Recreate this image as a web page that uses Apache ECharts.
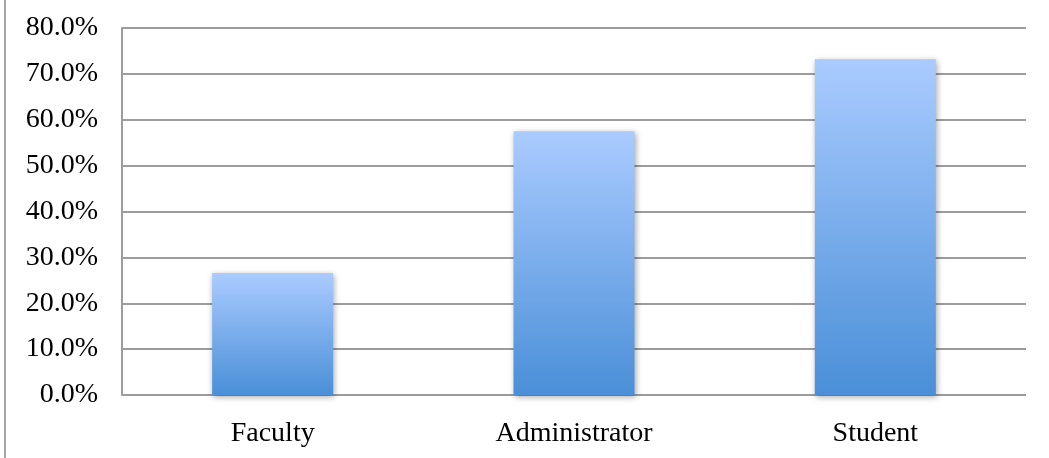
<!DOCTYPE html>
<html>
<head>
<meta charset="utf-8">
<script src="https://cdn.jsdelivr.net/npm/echarts@6/dist/echarts.min.js"></script>
<style>
  html, body { margin: 0; padding: 0; background: #fff; }
  #chart { width: 1049px; height: 458px; }
</style>
</head>
<body>
<div id="chart"></div>
<script>
  // categories and values (percent)
  var categories = ["Faculty", "Administrator", "Student"];
  var values = [26.6, 57.5, 73.2];

  var chart = echarts.init(document.getElementById("chart"));
  var option = {
    animation: false,
    grid: { left: 122, right: 23, top: 28, bottom: 63 },
    graphic: [{
      type: "line",
      shape: { x1: 5, y1: 0, x2: 5, y2: 458 },
      style: { stroke: "#a6a6a6", lineWidth: 2 }
    }],
    xAxis: {
      type: "category",
      data: categories,
      axisLine: { show: false },
      axisTick: { show: false },
      axisLabel: {
        color: "#000",
        fontFamily: "Liberation Serif",
        fontSize: 28,
        margin: 25
      }
    },
    yAxis: {
      type: "value",
      min: 0,
      max: 80,
      interval: 10,
      axisLine: { show: true, lineStyle: { color: "#9c9c9c", width: 2 } },
      axisTick: { show: false },
      splitLine: { lineStyle: { color: "#9c9c9c", width: 2 } },
      axisLabel: {
        color: "#000",
        fontFamily: "Liberation Serif",
        fontSize: 28,
        margin: 24,
        formatter: function (v) { return v.toFixed(1) + "%"; }
      }
    },
    series: [{
      type: "bar",
      data: values,
      barWidth: 121,
      itemStyle: {
        color: new echarts.graphic.LinearGradient(0, 0, 0, 1, [
          { offset: 0, color: "#aacbff" },
          { offset: 1, color: "#4a8fd8" }
        ]),
        shadowColor: "rgba(0,0,0,0.35)",
        shadowBlur: 6,
        shadowOffsetX: 1,
        shadowOffsetY: 2
      }
    }]
  };
  chart.setOption(option);
</script>
</body>
</html>
